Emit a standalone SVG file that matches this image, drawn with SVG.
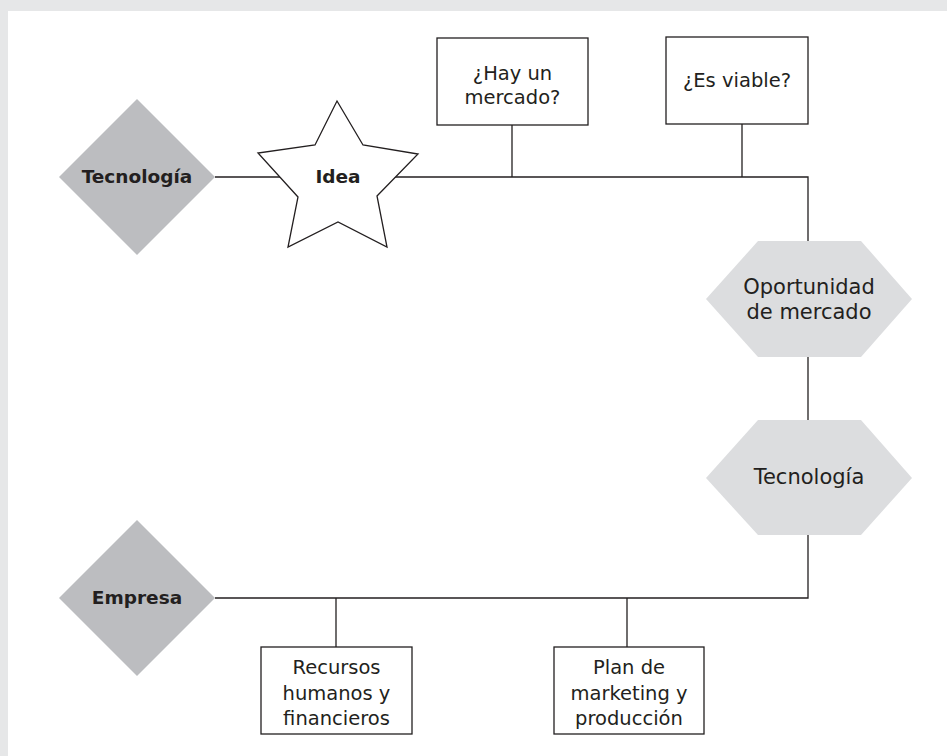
<svg xmlns="http://www.w3.org/2000/svg" width="947" height="756" viewBox="0 0 947 756">
<style>
.ln{fill:none;stroke:#231f20;stroke-width:1.3}
.box{fill:#fff;stroke:#231f20;stroke-width:1.3}
.dia{fill:#bcbdc0}
.hex{fill:#dcdddf}
.t{font-family:"DejaVu Sans","Liberation Sans",sans-serif;fill:#231f20;text-anchor:middle}
.b{font-weight:bold;font-size:18.5px}
.r{font-size:19.5px}
.h{font-size:21px}
</style>
<rect x="0" y="0" width="947" height="756" fill="#e6e7e8"/>
<rect x="8" y="11" width="939" height="745" fill="#fff"/>
<g id="connectors">
<path class="ln" d="M215,177 H808 V241"/>
<path class="ln" d="M512,125 V177"/>
<path class="ln" d="M742,124 V177"/>
<path class="ln" d="M808,357 V420"/>
<path class="ln" d="M808,535 V598 H215"/>
<path class="ln" d="M336,598 V647"/>
<path class="ln" d="M627,598 V647"/>
</g>
<g id="tecnologia1">
<polygon class="dia" points="137,99 215,177 137,255 59,177"/>
<text class="t b" x="137" y="183">Tecnología</text>
</g>
<g id="idea">
<polygon class="box" points="337,101 363,145 418,154 377,196 387,247 338,222 288,247 298,197 258,153 315,145"/>
<text class="t b" x="338" y="183">Idea</text>
</g>
<g id="mercado">
<rect class="box" x="437" y="38" width="151" height="87"/>
<text class="t r" x="512.5" y="80">¿Hay un</text>
<text class="t r" x="512.5" y="104">mercado?</text>
</g>
<g id="viable">
<rect class="box" x="666" y="37" width="142" height="87"/>
<text class="t r" x="737" y="87">¿Es viable?</text>
</g>
<g id="oportunidad">
<polygon class="hex" points="706,299 758,241 861,241 912,299 861,357 758,357"/>
<text class="t h" x="809" y="294">Oportunidad</text>
<text class="t h" x="809" y="319">de mercado</text>
</g>
<g id="tecnologia2">
<polygon class="hex" points="706,478 758,420 861,420 912,478 861,535 758,535"/>
<text class="t h" x="809" y="484">Tecnología</text>
</g>
<g id="empresa">
<polygon class="dia" points="137,520 215,598 137,676 59,598"/>
<text class="t b" x="137" y="604">Empresa</text>
</g>
<g id="recursos">
<rect class="box" x="261" y="647" width="151" height="87"/>
<text class="t r" x="336.5" y="674">Recursos</text>
<text class="t r" x="336.5" y="700">humanos y</text>
<text class="t r" x="336.5" y="725">financieros</text>
</g>
<g id="plan">
<rect class="box" x="554" y="647" width="150" height="87"/>
<text class="t r" x="629" y="674">Plan de</text>
<text class="t r" x="629" y="700">marketing y</text>
<text class="t r" x="629" y="725">producción</text>
</g>
</svg>
